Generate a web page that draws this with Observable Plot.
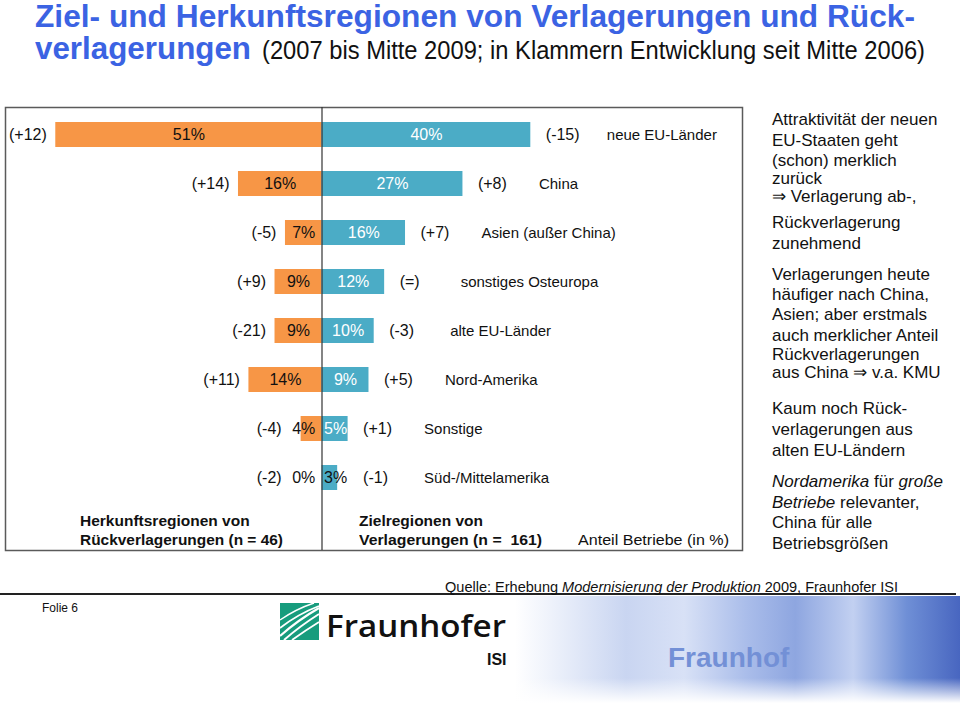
<!DOCTYPE html>
<html>
<head>
<meta charset="utf-8">
<script src="https://cdn.jsdelivr.net/npm/d3@7"></script>
<script src="https://cdn.jsdelivr.net/npm/@observablehq/plot@0.6"></script>
<style>
  html, body { margin: 0; padding: 0; background: #fff; }
  body { width: 960px; height: 703px; position: relative; overflow: hidden;
         font-family: "Liberation Sans", Arial, Helvetica, sans-serif; color: #111; }
  .t { position: absolute; white-space: nowrap; transform-origin: 0 0; }
  #chart { position: absolute; left: 0; top: 100px; }
</style>
</head>
<body>
<div id="chart"></div>
<script>
// ---------- data ----------
const regions = ["neue EU-Länder", "China", "Asien (außer China)", "sonstiges Osteuropa",
                 "alte EU-Länder", "Nord-Amerika", "Sonstige", "Süd-/Mittelamerika"];
const zielShare  = [40, 27, 16, 12, 10, 9, 5, 3];          // Zielregionen von Verlagerungen (%)
const zielChange = ["(-15)", "(+8)", "(+7)", "(=)", "(-3)", "(+5)", "(+1)", "(-1)"];
const herkShare  = [51, 16, 7, 9, 9, 14, 4, 0];            // Herkunftsregionen von Rückverlagerungen (%)
const herkChange = ["(+12)", "(+14)", "(-5)", "(+9)", "(-21)", "(+11)", "(-4)", "(-2)"];

const orange = "#F79646";
const blue = "#4BACC6";

const data = regions.map((r, i) => ({
  region: r, z: zielShare[i], zc: zielChange[i], h: herkShare[i], hc: herkChange[i]
}));

// ---------- chart ----------
const px = 5.22, zero = 321.5;
const chart = Plot.plot({
  width: 760, height: 460,
  marginLeft: 5, marginRight: 18, marginTop: 7, marginBottom: 10,
  style: { fontFamily: "'Liberation Sans', Arial, sans-serif", background: "transparent", overflow: "visible" },
  x: { domain: [-60, 80], range: [zero - 60 * px, zero + 80 * px], axis: null },
  y: { domain: regions, range: [8.35, 402.65], paddingInner: 0.49, paddingOuter: 0.245, axis: null },
  marks: [
    Plot.frame({ stroke: "#5a5a5a", strokeWidth: 1.5 }),
    Plot.barX(data, { x1: d => -d.h, x2: 0, y: "region", fill: orange }),
    Plot.barX(data, { x1: 0, x2: "z", y: "region", fill: blue }),
    Plot.ruleX([0], { stroke: "#333", strokeWidth: 1.2 }),
    Plot.text(data, { x: d => -Math.max(d.h / 2, 3.5), y: "region", text: d => d.h + "%", fill: "#111", fontSize: 16 }),
    Plot.text(data, { filter: d => d.z >= 5, x: d => Math.max(d.z / 2, 2.6), y: "region", text: d => d.z + "%", fill: "#fff", fontSize: 16 }),
    Plot.text(data, { filter: d => d.z < 5, x: d => Math.max(d.z / 2, 2.6), y: "region", text: d => d.z + "%", fill: "#111", fontSize: 16 }),
    Plot.text(data, { x: d => -Math.max(d.h, 6), y: "region", text: "hc", textAnchor: "end", dx: -9, fill: "#111", fontSize: 16 }),
    Plot.text(data, { x: d => Math.max(d.z, 5), y: "region", text: "zc", textAnchor: "start", dx: 15, fill: "#111", fontSize: 16 }),
    Plot.text(data, { x: d => Math.max(d.z, 5), y: "region", text: "region", textAnchor: "start", dx: 76, fill: "#111", fontSize: 15 })
  ]
});
document.getElementById("chart").appendChild(chart);

// ---------- text helper ----------
function addText(html, x, base, fs, opt = {}) {
  const d = document.createElement("div");
  d.className = "t";
  d.style.left = x + "px";
  d.style.top = (base - 0.8465 * fs) + "px";
  d.style.fontSize = fs + "px";
  d.style.lineHeight = fs + "px";
  if (opt.bold) d.style.fontWeight = "bold";
  if (opt.color) d.style.color = opt.color;
  if (opt.family) d.style.fontFamily = opt.family;
  d.innerHTML = html;
  document.body.appendChild(d);
  if (opt.width) {
    const w = d.getBoundingClientRect().width;
    d.style.transform = "scaleX(" + (opt.width / w) + ")";
  }
  return d;
}

// title
const titleBlue = "#3B63E3";
addText("Ziel- und Herkunftsregionen von Verlagerungen und Rück-", 35, 27.5, 31, { bold: true, color: titleBlue, width: 880 });
addText("verlagerungen", 35, 59, 31, { bold: true, color: titleBlue, width: 216 });
addText("(2007 bis Mitte 2009; in Klammern Entwicklung seit Mitte 2006)", 262, 59, 25, { color: "#111", width: 663 });

// chart footnotes inside box
addText("Herkunftsregionen von", 80, 526, 15.5, { bold: true });
addText("Rückverlagerungen (n = 46)", 80, 545, 15.5, { bold: true, width: 203 });
addText("Zielregionen von", 359, 526, 15.5, { bold: true });
addText("Verlagerungen (n =&nbsp; 161)", 359, 545, 15.5, { bold: true, width: 183 });
addText("Anteil Betriebe (in %)", 578, 545, 15.5, { width: 151 });

// right-hand comments
const fs = 17, rx = 772;
[
  ["Attraktivität der neuen", 125],
  ["EU-Staaten geht", 146],
  ["(schon) merklich", 166],
  ["zurück", 184],
  ["⇒ Verlagerung ab-,", 202],
  ["Rückverlagerung", 228],
  ["zunehmend", 249],
  ["Verlagerungen heute", 280],
  ["häufiger nach China,", 300],
  ["Asien; aber erstmals", 320],
  ["auch merklicher Anteil", 341],
  ["Rückverlagerungen", 360],
  ["aus China ⇒ v.a. KMU", 378],
  ["Kaum noch Rück-", 414],
  ["verlagerungen aus", 435],
  ["alten EU-Ländern", 456],
  ["<i>Nordamerika</i> für <i>große</i>", 487],
  ["<i>Betriebe</i> relevanter,", 508],
  ["China für alle", 528],
  ["Betriebsgrößen", 549]
].forEach(([t, b]) => addText(t, rx, b, fs));

// footer
const line = document.createElement("div");
line.style.cssText = "position:absolute;left:0;top:593px;width:956px;height:1.5px;background:#222;";
document.body.appendChild(line);
addText("Quelle: Erhebung <i>Modernisierung der Produktion</i> 2009, Fraunhofer ISI", 445, 592, 15.5, { width: 453 });
addText("Folie 6", 42, 612, 12, { width: 36 });

// photo strip (approximation)
const photo = document.createElement("div");
photo.style.cssText = "position:absolute;left:515px;top:596px;width:445px;height:107px;" +
  "background:linear-gradient(90deg,#ffffff 0%,#eef2fb 8%,#c9d5f1 25%,#d8e1f6 38%,#aabdea 52%,#8ea6e0 63%,#c2d0f1 76%,#6f8fd6 88%,#4866c0 100%);";
document.body.appendChild(photo);
const fade = document.createElement("div");
fade.style.cssText = "position:absolute;left:515px;top:678px;width:445px;height:25px;background:linear-gradient(180deg,rgba(255,255,255,0),#fff);";
document.body.appendChild(fade);
addText("Fraunhof", 668, 668, 28, { bold: true, color: "#7390d6" });

// Fraunhofer logo
const ns = "http://www.w3.org/2000/svg";
const logo = document.createElementNS(ns, "svg");
logo.setAttribute("width", "240"); logo.setAttribute("height", "75");
logo.style.cssText = "position:absolute;left:278px;top:600px;";
logo.innerHTML =
  '<rect x="2" y="3" width="39" height="37" fill="#179C7D"/>' +
  '<path d="M2 36 Q20 20 41 8" stroke="#fff" stroke-width="2.2" fill="none"/>' +
  '<path d="M2 28 Q20 14 41 6" stroke="#fff" stroke-width="1.8" fill="none"/>' +
  '<path d="M6 40 Q22 26 41 14" stroke="#fff" stroke-width="2" fill="none"/>' +
  '<path d="M14 40 Q28 30 41 22" stroke="#fff" stroke-width="1.8" fill="none"/>' +
  '<path d="M2 20 Q18 9 36 3" stroke="#fff" stroke-width="1.5" fill="none"/>' +
  '<text x="48" y="37" font-family="Open Sans, Liberation Sans, sans-serif" font-weight="600" font-size="31" textLength="180" lengthAdjust="spacingAndGlyphs" fill="#111">Fraunhofer</text>' +
  '<text x="209" y="65" font-family="Liberation Sans, sans-serif" font-weight="bold" font-size="16" fill="#111">ISI</text>';
document.body.appendChild(logo);
</script>
</body>
</html>
